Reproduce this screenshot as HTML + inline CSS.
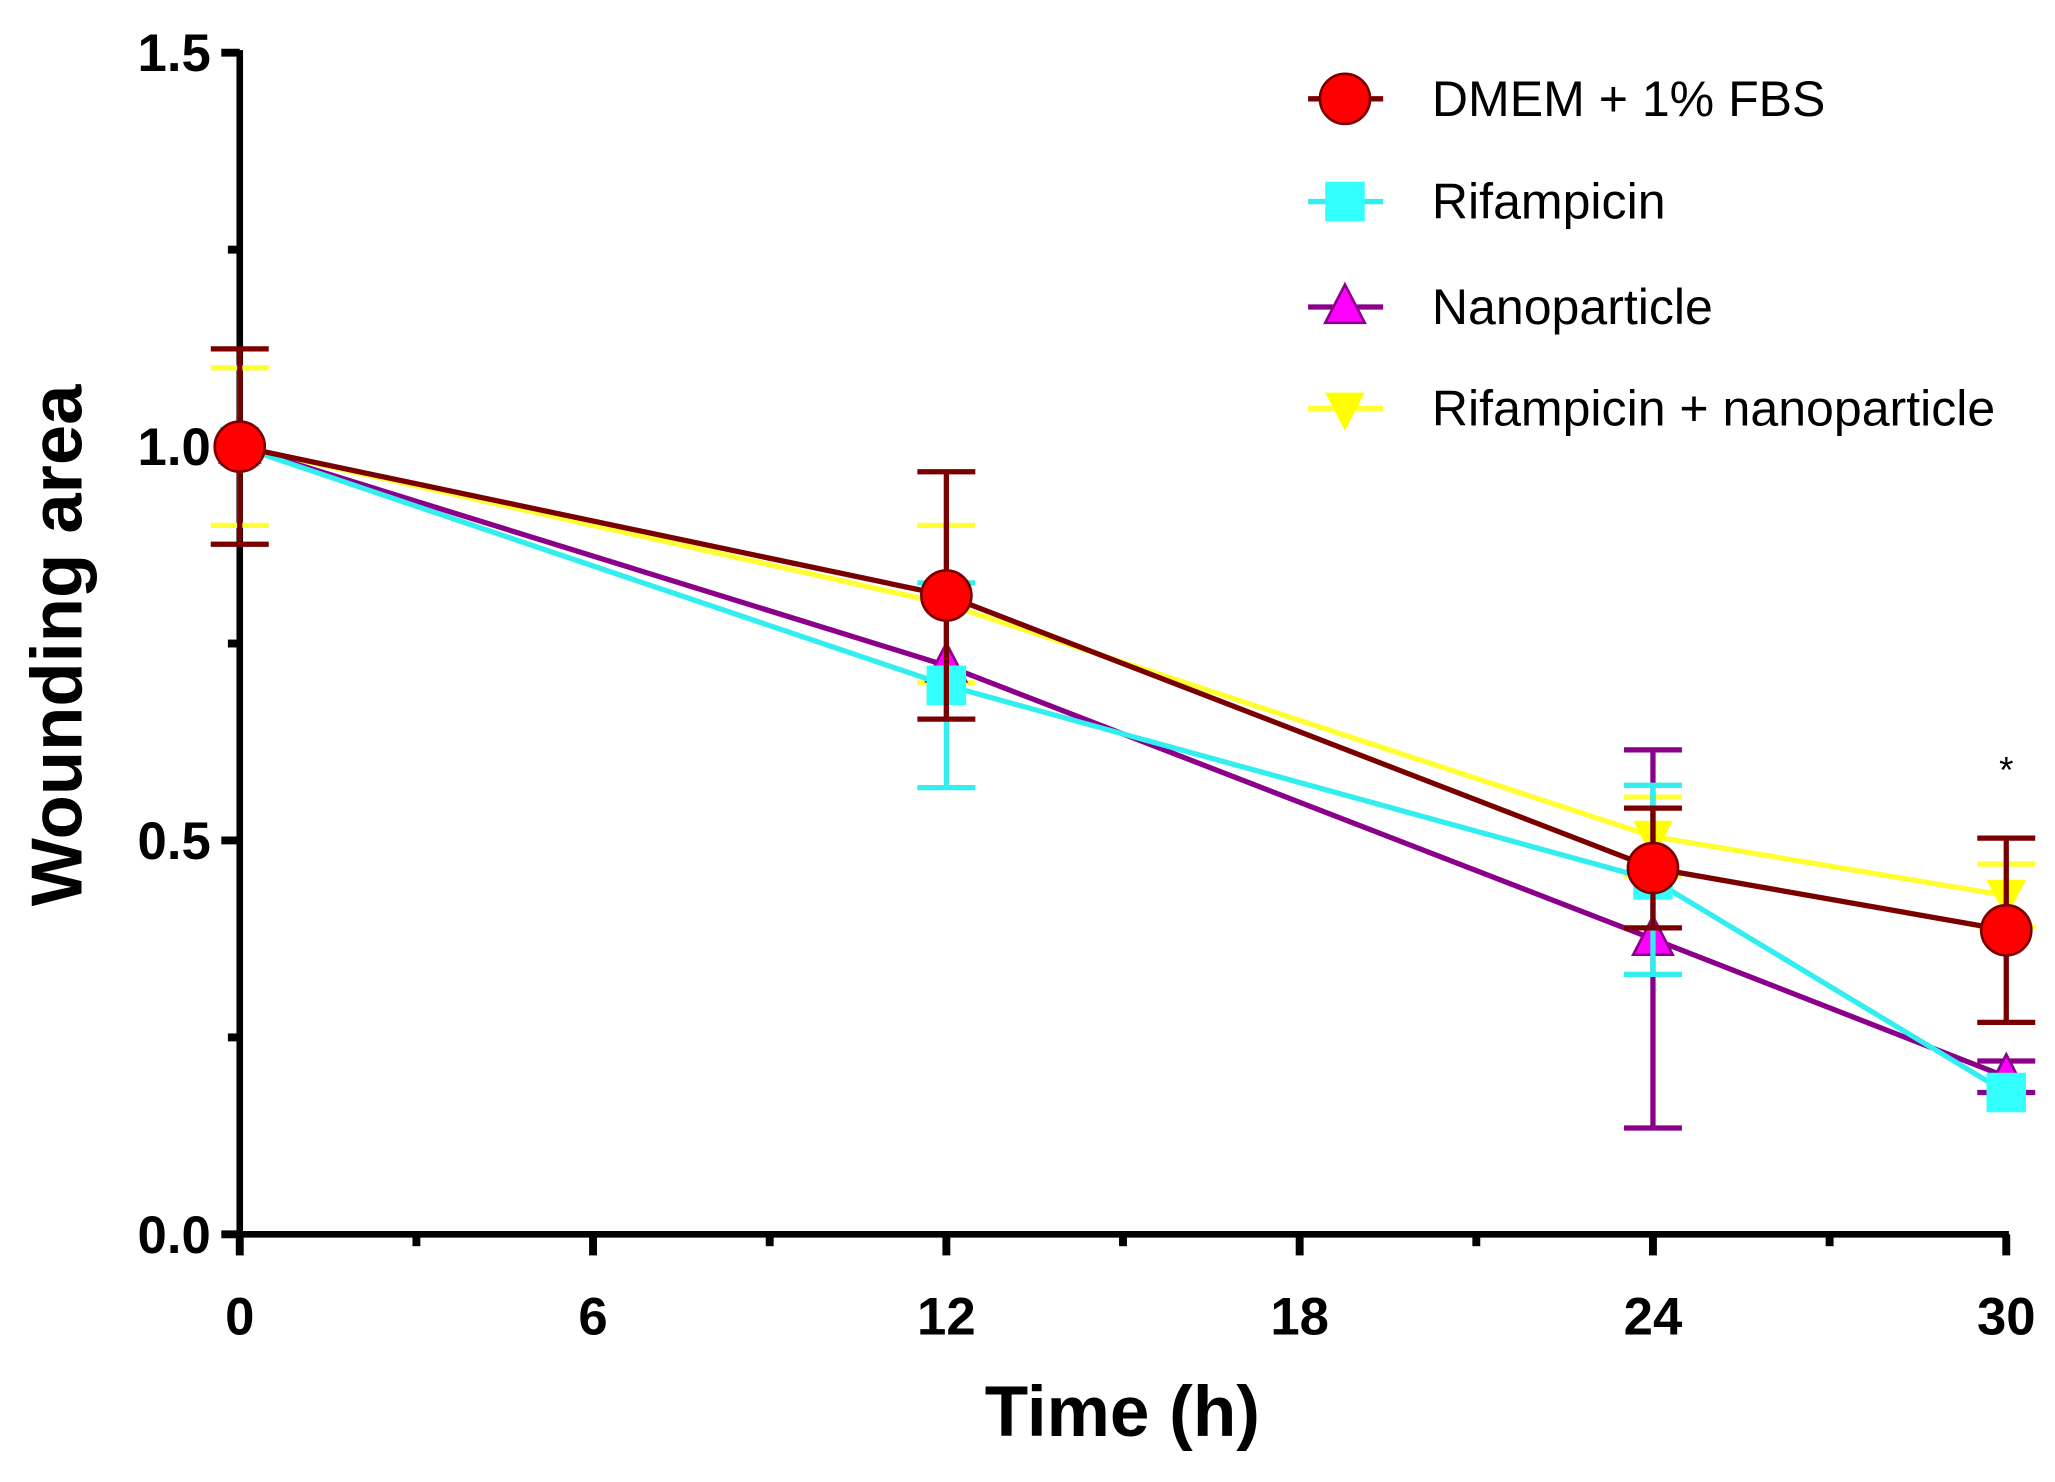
<!DOCTYPE html>
<html><head><meta charset="utf-8"><style>
html,body{margin:0;padding:0;background:#fff;}
svg{display:block;}
text{font-family:"Liberation Sans",Arial,sans-serif;}
</style></head><body>
<svg id="chart" width="2055" height="1482" viewBox="0 0 1560 1125" xmlns="http://www.w3.org/2000/svg">
<g id="axes"></g>
<g id="series"></g>
<g id="legend"></g>
<text x="852" y="1090" font-size="54" font-weight="bold" text-anchor="middle">Time (h)</text>
<text transform="translate(62,490) rotate(-90)" font-size="55" font-weight="bold" text-anchor="middle">Wounding area</text>
<text x="1523" y="594" font-size="28" text-anchor="middle">*</text>
</svg>
<script>
const times = [0, 12, 24, 30];
const seriesNames = ["Rifampicin + nanoparticle", "Nanoparticle", "Rifampicin", "DMEM + 1% FBS"];
const yellowVals = [1.0, 0.80, 0.505, 0.43];
const yellowErr = [0.10, 0.10, 0.05, 0.04];
const purpleVals = [1.0, 0.722, 0.375, 0.20];
const purpleErr = [0.0, 0.0, 0.24, 0.02];
const cyanVals = [1.0, 0.697, 0.45, 0.18];
const cyanErr = [0.0, 0.13, 0.12, 0.0];
const redVals = [1.0, 0.811, 0.465, 0.386];
const redErr = [0.124, 0.157, 0.076, 0.117];
const xTicks = [0, 6, 12, 18, 24, 30];
const yTicks = [0.0, 0.5, 1.0, 1.5];
const yTickLabels = ["0.0", "0.5", "1.0", "1.5"];

const NS = "http://www.w3.org/2000/svg";
const X0 = 182, X1 = 1523, Y0 = 937, Y1 = 40;
const xs = t => X0 + (t / 30) * (X1 - X0);
const ys = v => Y0 - (v / 1.5) * (Y0 - Y1);
function mk(tag, attrs, parent) {
  const e = document.createElementNS(NS, tag);
  for (const k in attrs) e.setAttribute(k, attrs[k]);
  parent.appendChild(e);
  return e;
}
const axes = document.getElementById("axes");
let el = mk("line", {x1: X0, y1: Y1 - 2, x2: X0, y2: Y0 + 2, stroke: "#000", "stroke-width": 5}, axes);


el = mk("line", {x1: X0 - 2, y1: Y0, x2: X1 + 2, y2: Y0, stroke: "#000", "stroke-width": 5}, axes);


for (let i = 0; i <= 6; i++) {
  const v = i * 0.25, major = i % 2 === 0;
  el = mk("line", {x1: X0 - (major ? 14 : 9), y1: ys(v), x2: X0, y2: ys(v), stroke: "#000", "stroke-width": 6}, axes);
  
  
}
yTicks.forEach((v, i) => {
  el = mk("text", {x: X0 - 22, y: ys(v) + 14, "font-size": 40, "font-weight": "bold", "text-anchor": "end"}, axes);
  el.textContent = yTickLabels[i];
  
  
});
for (let t = 0; t <= 30; t += 3) {
  const major = t % 6 === 0;
  el = mk("line", {x1: xs(t), y1: Y0, x2: xs(t), y2: Y0 + (major ? 16 : 9), stroke: "#000", "stroke-width": 6}, axes);
  
  
}
xTicks.forEach(t => {
  el = mk("text", {x: xs(t), y: Y0 + 76, "font-size": 40, "font-weight": "bold", "text-anchor": "middle"}, axes);
  el.textContent = String(t);
  
  
});

function marker(g, type, cx, cy, fill, stroke) {
  let m;
  if (type === "circle") m = mk("circle", {cx, cy, r: 19, fill, stroke, "stroke-width": 2}, g);
  else if (type === "square") m = mk("rect", {x: cx - 15, y: cy - 15, width: 30, height: 30, fill, stroke: "none"}, g);
  else if (type === "up") m = mk("polygon", {points: `${cx},${cy-17} ${cx+15},${cy+12} ${cx-15},${cy+12}`, fill, stroke, "stroke-width": 2}, g);
  else m = mk("polygon", {points: `${cx},${cy+17} ${cx+15},${cy-12} ${cx-15},${cy-12}`, fill, stroke: "none"}, g);
  return m;
}
const seriesDefs = [
  {name: "rifampicin-nanoparticle", vals: yellowVals, err: yellowErr, line: "#ffff33", fill: "#ffff00", type: "down"},
  {name: "nanoparticle", vals: purpleVals, err: purpleErr, line: "#8b008b", fill: "#ff00ff", type: "up"},
  {name: "rifampicin", vals: cyanVals, err: cyanErr, line: "#33eeee", fill: "#33ffff", type: "square"},
  {name: "dmem-fbs", vals: redVals, err: redErr, line: "#7a0000", fill: "#ff0000", type: "circle"}
];
const sg = document.getElementById("series");
seriesDefs.forEach(s => {
  const g = mk("g", {}, sg);
  
  
  const pts = times.map((t, i) => xs(t) + "," + ys(s.vals[i])).join(" ");
  const pl = mk("polyline", {points: pts, fill: "none", stroke: s.line, "stroke-width": 4}, g);
  
  
  times.forEach((t, i) => {
    if (s.err[i] > 0) {
      const x = xs(t), yt = ys(s.vals[i] + s.err[i]), yb = ys(s.vals[i] - s.err[i]);
      const eb = mk("path", {d: `M${x},${yt}V${yb}M${x-22},${yt}H${x+22}M${x-22},${yb}H${x+22}`, stroke: s.line, "stroke-width": 4, fill: "none"}, g);
      
      
    }
  });
  times.forEach((t, i) => {
    const m = marker(g, s.type, xs(t), ys(s.vals[i]), s.fill, s.line);
    
    
  });
});

const lg = document.getElementById("legend");
const legendOrder = [3, 2, 1, 0];
const legendY = [75, 153, 233, 310];
legendOrder.forEach((si, k) => {
  const s = seriesDefs[si];
  const g = mk("g", {}, lg);
  
  
  const y = legendY[k];
  mk("line", {x1: 993, y1: y, x2: 1050, y2: y, stroke: s.line, "stroke-width": 4}, g);
  marker(g, s.type, 1021, y, s.fill, s.line);
  const tx = mk("text", {x: 1087, y: y + 13, "font-size": 38, textLength: 0}, g);
  tx.removeAttribute("textLength");
  tx.textContent = seriesNames[si];
});
</script>
</body></html>
